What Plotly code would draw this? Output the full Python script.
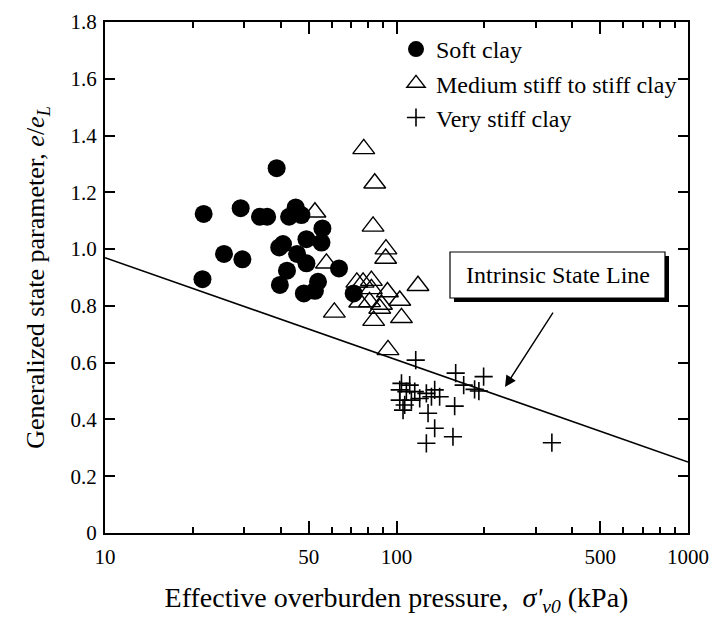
import plotly.graph_objects as go

# ---------------- data ----------------
soft_x = [21.8, 21.6, 25.6, 29.6, 29.2, 38.8, 34.0, 36.0, 45.1, 42.8, 47.2, 55.7, 49.1,
          55.3, 39.6, 40.8, 45.6, 49.1, 42.1, 63.5, 39.8, 48.1, 52.5, 53.8, 71.3]
soft_y = [1.124, 0.894, 0.983, 0.964, 1.144, 1.285, 1.114, 1.114, 1.147, 1.114, 1.12, 1.073, 1.035,
          1.023, 1.006, 1.018, 0.983, 0.95, 0.924, 0.932, 0.874, 0.844, 0.853, 0.885, 0.844]

med_x = [77.2, 84.2, 52.5, 83.1, 92.0, 91.8, 57.5, 118.5, 73.1, 76.8, 82.0, 82.0, 93.1,
         102.6, 74.8, 80.8, 88.8, 87.6, 61.2, 83.5, 104.0, 93.5]
med_y = [1.353, 1.232, 1.13, 1.08, 1.0, 0.967, 0.95, 0.871, 0.883, 0.883, 0.889, 0.86, 0.849,
         0.819, 0.813, 0.814, 0.805, 0.791, 0.777, 0.748, 0.758, 0.645]

stiff_x = [116.4, 159.6, 199.0, 170.0, 185.3, 191.7, 104.0, 111.0, 102.6, 108.1, 115.5, 126.6, 135.2,
           140.6, 120.1, 112.5, 102.6, 131.8, 106.7, 158.3, 105.3, 128.3, 135.2, 156.2, 126.6, 341.2]
stiff_y = [0.609, 0.563, 0.551, 0.521, 0.506, 0.5, 0.527, 0.521, 0.504, 0.498, 0.498, 0.492, 0.504,
           0.48, 0.474, 0.468, 0.468, 0.48, 0.451, 0.447, 0.433, 0.422, 0.369, 0.339, 0.316, 0.318]

isl_x = [10, 1000]
isl_y = [0.97, 0.25]

x_tickvals = [10, 50, 100, 500, 1000]
x_ticktext = ["10", "50", "100", "500", "1000"]
x_minor = [20, 30, 40, 60, 70, 80, 90, 200, 300, 400, 600, 700, 800, 900]
y_tickvals = [0, 0.2, 0.4, 0.6, 0.8, 1.0, 1.2, 1.4, 1.6, 1.8]
y_ticktext = ["0", "0.2", "0.4", "0.6", "0.8", "1.0", "1.2", "1.4", "1.6", "1.8"]

FONT = "Liberation Serif, Times New Roman, serif"

# ---------------- layout geometry (pixels) ----------------
W, H = 715, 617
ML, MR, MT, MB = 105, 27, 22, 84
PW, PH = W - ML - MR, H - MT - MB


def px(xp):
    return (xp - ML) / PW


def py(yp):
    return (H - MB - yp) / PH


fig = go.Figure()

fig.add_trace(go.Scatter(x=isl_x, y=isl_y, mode="lines", line=dict(color="black", width=1.6),
                         showlegend=False, hoverinfo="skip"))

fig.add_trace(go.Scatter(x=soft_x, y=soft_y, mode="markers", name="Soft clay",
                         marker=dict(symbol="circle", size=18, color="black",
                                     line=dict(width=0))))
fig.add_trace(go.Scatter(x=med_x, y=med_y, mode="markers", name="Medium stiff to stiff clay",
                         marker=dict(symbol="triangle-up-open", size=19, color="black",
                                     line=dict(width=1.4, color="black"))))
fig.add_trace(go.Scatter(x=stiff_x, y=stiff_y, mode="markers", name="Very stiff clay",
                         marker=dict(symbol="cross-thin-open", size=13, color="black",
                                     line=dict(width=1.6, color="black"))))

# annotation box with shadow
bx0, bx1, by0, by1 = 450, 665, 252, 298
sh = 4
fig.add_shape(type="rect", xref="paper", yref="paper",
              x0=px(bx0 + sh), x1=px(bx1 + sh), y0=py(by1 + sh), y1=py(by0 + sh),
              fillcolor="black", line=dict(width=0))
fig.add_shape(type="rect", xref="paper", yref="paper",
              x0=px(bx0), x1=px(bx1), y0=py(by1), y1=py(by0),
              fillcolor="white", line=dict(color="black", width=1.2))
fig.add_annotation(xref="paper", yref="paper", x=px((bx0 + bx1) / 2), y=py((by0 + by1) / 2),
                   text="Intrinsic State Line", showarrow=False,
                   font=dict(family=FONT, size=24, color="black"), xanchor="center", yanchor="middle")
# arrow
fig.add_annotation(xref="paper", yref="paper", x=px(505), y=py(387), text=" ",
                   showarrow=True, ax=51, ay=-79, arrowhead=2, arrowsize=1.6, arrowwidth=1.4,
                   arrowcolor="black", standoff=0)

fig.update_layout(
    width=W, height=H,
    margin=dict(l=ML, r=MR, t=MT, b=MB, autoexpand=False),
    paper_bgcolor="white", plot_bgcolor="white",
    font=dict(family=FONT, color="black"),
    legend=dict(x=px(396), y=py(27), xanchor="left", yanchor="top",
                font=dict(family=FONT, size=24, color="black"),
                bgcolor="rgba(0,0,0,0)", borderwidth=0, tracegroupgap=0),
    xaxis=dict(type="log", range=[1, 3], showline=True, linecolor="black", linewidth=2,
               mirror="ticks", ticks="inside", ticklen=12, tickwidth=1.5, tickcolor="black",
               tickvals=x_tickvals, ticktext=x_ticktext, showgrid=False, zeroline=False,
               tickfont=dict(family=FONT, size=21, color="black"), ticklabelstandoff=4,
               minor=dict(tickvals=x_minor, ticks="inside", ticklen=6, tickwidth=1.5,
                          tickcolor="black", showgrid=False),
               title=dict(text="Effective overburden pressure,\u00a0\u00a0<i>σ'</i><sub><i>v0</i></sub> (kPa)",
                          font=dict(family=FONT, size=28, color="black"), standoff=20),
               automargin=False),
    yaxis=dict(range=[0, 1.8], showline=True, linecolor="black", linewidth=2,
               mirror="ticks", ticks="inside", ticklen=10, tickwidth=1.5, tickcolor="black",
               tickvals=y_tickvals, ticktext=y_ticktext, showgrid=False, zeroline=False,
               tickfont=dict(family=FONT, size=21, color="black"), ticklabelstandoff=2,
               title=dict(text="Generalized state parameter, <i>e</i>/<i>e<sub>L</sub></i>",
                          font=dict(family=FONT, size=26, color="black"), standoff=18),
               automargin=False),
)

fig.write_html("out.html")
